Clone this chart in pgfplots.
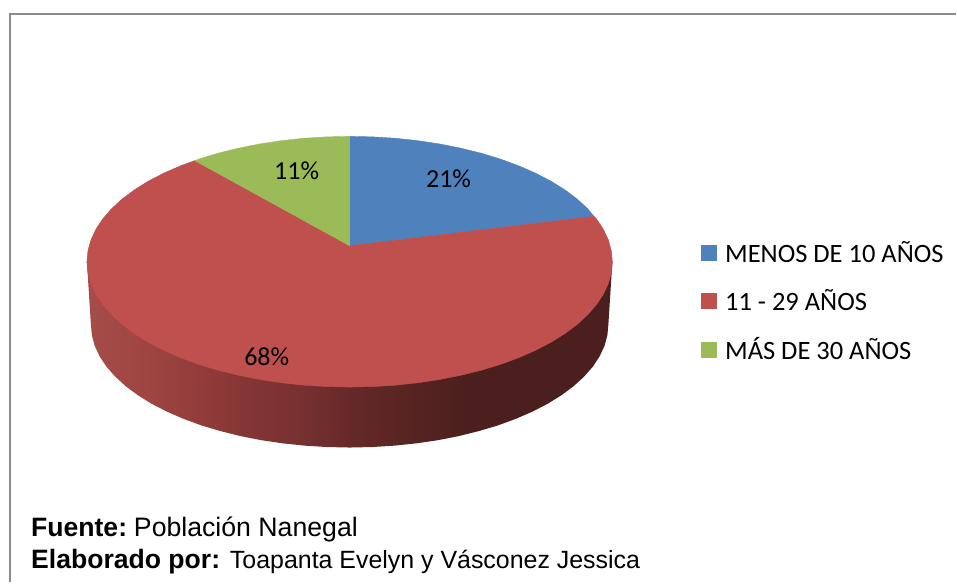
\documentclass[border=0pt]{standalone}
\usepackage{fontspec}
\setmainfont{Liberation Sans}
\newfontfamily\calfont{Carlito}
\usepackage{pgfplots}
\pgfplotsset{compat=1.18}
\definecolor{pblue}{HTML}{4F81BD}
\definecolor{pred}{HTML}{C0504D}
\definecolor{pgreen}{HTML}{9BBB59}
\definecolor{sa}{rgb}{0.65,0.30,0.29}
\definecolor{sb}{rgb}{0.62,0.27,0.26}
\definecolor{sc}{rgb}{0.53,0.21,0.21}
\definecolor{sd}{rgb}{0.47,0.19,0.19}
\definecolor{se}{rgb}{0.40,0.16,0.16}
\definecolor{sf}{rgb}{0.33,0.14,0.13}
\definecolor{sg}{rgb}{0.295,0.12,0.115}
\pgfdeclarehorizontalshading{pieside}{100bp}{
 color(0bp)=(sa);
 color(25bp)=(sa);
 color(31bp)=(sb);
 color(39.5bp)=(sc);
 color(45.2bp)=(sd);
 color(50bp)=(se);
 color(56.7bp)=(sf);
 color(61.4bp)=(sg);
 color(75bp)=(sg);
 color(100bp)=(sg)}
\begin{document}
\begin{tikzpicture}
\begin{axis}[
  scale only axis, width=957bp, height=583bp,
  xmin=0, xmax=957, ymin=0, ymax=583, y dir=reverse,
  hide axis, clip=false,
  legend style={at={(702/957,1-240/583)}, anchor=north west, draw=none, fill=none,
    inner sep=0pt, outer sep=0pt, row sep=21.5bp, column sep=6.5bp, font=\calfont\fontsize{26.5bp}{26.5bp}\selectfont},
  legend cell align=left,
  legend image code/.code={\path[#1] (0bp,-7.5bp) rectangle (15bp,7.5bp);},
]
% page extent
\addplot[forget plot, draw=none, no markers] coordinates {(0,0) (957,583)};
% frame
\addplot[forget plot, draw=black!45, line width=2bp, no markers] coordinates {(10,583) (10,14) (957,14)};
% side wall
\addplot[forget plot, draw=none, shading=pieside, no markers] coordinates {
(613,262)(609,325)(608,335.7)(605.1,346.4)(600.2,356.8)(593.4,367.1)(584.7,377)(574.3,386.5)(562.2,395.5)(548.4,404.1)(533.1,412)(516.5,419.2)(498.6,425.8)(479.5,431.5)(459.5,436.5)(438.6,440.6)(417,443.8)(395,446.1)(372.6,447.5)(350,448)
(327.4,447.5)(305,446.1)(283,443.8)(261.4,440.6)(240.5,436.5)(220.5,431.5)(201.4,425.8)(183.5,419.2)(166.9,412)(151.6,404.1)(137.8,395.5)(125.7,386.5)(115.3,377)(106.6,367.1)(99.8,356.8)(94.9,346.4)(92,335.7)(91,325)(87,262)
} -- cycle;
% slices
\addplot[fill=pblue, draw=pblue, line width=0.4bp, no markers] coordinates {
(350,246)(350,136.5)(372.9,137)(395.7,138.4)(418.1,140.8)(440,144.1)(461.1,148.3)(481.5,153.3)(500.9,159.2)(519.1,165.9)(536,173.3)(551.5,181.3)(565.4,190)(577.8,199.25)(588.4,209)(594.5,216.5)
} -- cycle;
\addlegendentry{MENOS DE 10 AÑOS}
\addplot[fill=pred, draw=pred, line width=0.4bp, no markers] coordinates {
(350,246)(594.5,216.5)(597.1,219.1)(604,229.5)(609,240.2)(612,251.1)(613,262)
(612,272.9)(609,283.8)(604,294.5)(597.1,304.9)(588.4,315)(577.8,324.75)(565.4,334)(551.5,342.7)(536,350.7)(519.1,358.1)(500.9,364.8)(481.5,370.7)(461.1,375.7)(440,379.9)(418.1,383.2)(395.7,385.6)(372.9,387)(350,387.5)
(327.1,387)(304.3,385.6)(281.9,383.2)(260,379.9)(238.9,375.7)(218.5,370.7)(199.1,364.8)(180.9,358.1)(164,350.7)(148.5,342.7)(134.6,334)(122.2,324.75)(111.6,315)(102.9,304.9)(96,294.5)(91,283.8)(88,272.9)(87,262)
(88,251.1)(91,240.2)(96,229.5)(102.9,219.1)(111.6,209)(122.2,199.25)(134.6,190)(148.5,181.3)(164,173.3)(180.9,165.9)(195,160.8)
} -- cycle;
\addlegendentry{11 - 29 AÑOS}
\addplot[fill=pgreen, draw=pgreen, line width=0.4bp, no markers] coordinates {
(350,246)(195,160.8)(199.1,159.2)(218.5,153.3)(238.9,148.3)(260,144.1)(281.9,140.8)(304.3,138.4)(327.1,137)(350,136.5)
} -- cycle;
\addlegendentry{MÁS DE 30 AÑOS}
% labels
\node[font=\calfont\fontsize{26bp}{26bp}\selectfont, anchor=base] at (axis cs:449,188) {21\%};
\node[font=\calfont\fontsize{26bp}{26bp}\selectfont, anchor=base] at (axis cs:297,180) {11\%};
\node[font=\calfont\fontsize{26bp}{26bp}\selectfont, anchor=base] at (axis cs:267,366) {68\%};
% source
\node[anchor=base west, inner sep=0pt] at (axis cs:31,537) {\fontsize{26.6bp}{27bp}\selectfont\textbf{Fuente:}\hspace{-3bp} \fontsize{26.7bp}{27bp}\selectfont Población Nanegal};
\node[anchor=base west, inner sep=0pt] at (axis cs:31,569) {\fontsize{26.6bp}{27bp}\selectfont\textbf{Elaborado por:} \fontsize{24.95bp}{27bp}\selectfont Toapanta Evelyn y Vásconez Jessica};
\end{axis}
\end{tikzpicture}
\end{document}
